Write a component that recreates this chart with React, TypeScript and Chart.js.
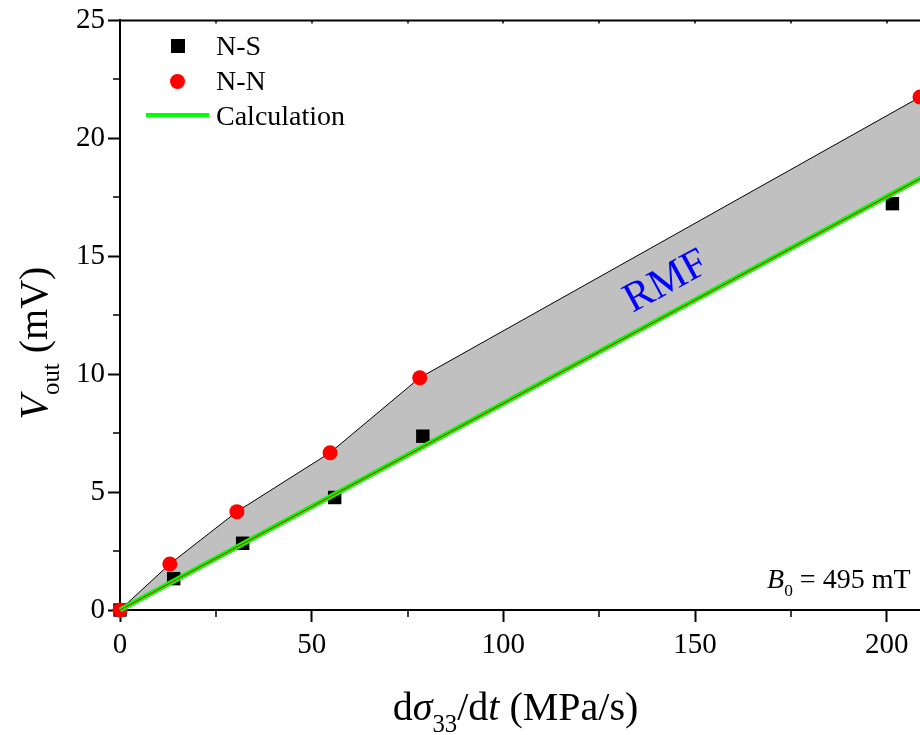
import { useEffect, useRef } from "react";
import { Chart, registerables } from "chart.js";

Chart.register(...registerables);

// Stress rate dσ33/dt (MPa/s) and measured output voltage (mV)
const nsRate = [0, 14, 32, 56, 79, 201.5];
const nsVout = [0, 1.33, 2.83, 4.77, 7.37, 17.23];
const nnRate = [0, 13, 30.5, 54.8, 78.2, 208.7];
const nnVout = [0, 1.95, 4.17, 6.67, 9.85, 21.75];
// Calculated response (straight line through the origin)
const calcRate = [0, 210];
const calcVout = [0, 18.4];

const xTicks = [0, 50, 100, 150, 200];
const yTicks = [0, 5, 10, 15, 20, 25];
const xMinorTicks = [25, 75, 125, 175];
const yMinorTicks = [2.5, 7.5, 12.5, 17.5, 22.5];

const SERIF = "'Liberation Serif', 'Times New Roman', serif";

type Run = { t: string; italic?: boolean; sub?: boolean };

function runFont(size: number, r: Run) {
  const s = r.sub ? size * 0.62 : size;
  return `${r.italic ? "italic " : ""}${s}px ${SERIF}`;
}

function drawRuns(
  ctx: CanvasRenderingContext2D,
  runs: Run[],
  x: number,
  y: number,
  size: number,
  align: "left" | "center"
) {
  ctx.save();
  ctx.textBaseline = "alphabetic";
  ctx.textAlign = "left";
  let total = 0;
  const widths = runs.map((r) => {
    ctx.font = runFont(size, r);
    const w = ctx.measureText(r.t).width;
    total += w;
    return w;
  });
  let cx = align === "center" ? x - total / 2 : x;
  runs.forEach((r, i) => {
    ctx.font = runFont(size, r);
    ctx.fillText(r.t, cx, r.sub ? y + size * 0.3 : y);
    cx += widths[i];
  });
  ctx.restore();
}

const decorPlugin = {
  id: "decor",
  afterDraw(chart: any) {
    const ctx: CanvasRenderingContext2D = chart.ctx;
    const { left, right, top, bottom } = chart.chartArea;
    const xs = chart.scales.x;
    const ys = chart.scales.y;
    ctx.save();
    ctx.strokeStyle = "#000";
    ctx.lineWidth = 2;

    // top and right frame
    ctx.beginPath();
    ctx.moveTo(left - 1, top);
    ctx.lineTo(right + 1, top);
    ctx.moveTo(right, top);
    ctx.lineTo(right, bottom);
    ctx.stroke();

    // minor ticks (outside) and small inner ticks along the top frame
    ctx.lineWidth = 1.5;
    ctx.beginPath();
    xMinorTicks.forEach((v) => {
      const px = Math.round(xs.getPixelForValue(v));
      ctx.moveTo(px, bottom);
      ctx.lineTo(px, bottom + 7);
    });
    yMinorTicks.forEach((v) => {
      const py = Math.round(ys.getPixelForValue(v));
      ctx.moveTo(left, py);
      ctx.lineTo(left - 7, py);
    });
    [...xTicks, ...xMinorTicks].forEach((v) => {
      const px = Math.round(xs.getPixelForValue(v));
      ctx.moveTo(px, top);
      ctx.lineTo(px, top + 3);
    });
    ctx.stroke();

    ctx.fillStyle = "#000";

    // x-axis title
    drawRuns(
      ctx,
      [
        { t: "d" },
        { t: "σ", italic: true },
        { t: "33", sub: true },
        { t: "/d" },
        { t: "t", italic: true },
        { t: " (MPa/s)" },
      ],
      (left + right) / 2 - 7,
      720,
      40,
      "center"
    );

    // y-axis title
    ctx.save();
    ctx.translate(47, 343);
    ctx.rotate(-Math.PI / 2);
    drawRuns(
      ctx,
      [{ t: "V", italic: true }, { t: "out", sub: true }, { t: " (mV)" }],
      0,
      0,
      40,
      "center"
    );
    ctx.restore();

    // legend
    ctx.fillStyle = "#000";
    ctx.fillRect(171, 39, 14, 14);
    ctx.fillStyle = "#ff0000";
    ctx.beginPath();
    ctx.arc(177.5, 81.5, 7.5, 0, Math.PI * 2);
    ctx.fill();
    ctx.strokeStyle = "#00ff00";
    ctx.lineWidth = 4;
    ctx.beginPath();
    ctx.moveTo(146, 115);
    ctx.lineTo(209, 115);
    ctx.stroke();
    ctx.fillStyle = "#000";
    drawRuns(ctx, [{ t: "N-S" }], 216, 55, 28, "left");
    drawRuns(ctx, [{ t: "N-N" }], 216, 90, 28, "left");
    drawRuns(ctx, [{ t: "Calculation" }], 216, 125, 28, "left");

    // field annotation
    drawRuns(
      ctx,
      [{ t: "B", italic: true }, { t: "0", sub: true }, { t: " = 495 mT" }],
      xs.getPixelForValue(168.8),
      ys.getPixelForValue(0.93),
      28,
      "left"
    );

    // region label
    ctx.save();
    ctx.translate(xs.getPixelForValue(142.5), ys.getPixelForValue(13.9));
    ctx.rotate((-28.5 * Math.PI) / 180);
    ctx.fillStyle = "#0000ff";
    ctx.font = `42px ${SERIF}`;
    ctx.textAlign = "center";
    ctx.textBaseline = "middle";
    ctx.fillText("RMF", 0, 0);
    ctx.restore();

    ctx.restore();
  },
};

export default function App() {
  const canvasRef = useRef<HTMLCanvasElement | null>(null);

  useEffect(() => {
    const canvas = canvasRef.current;
    if (!canvas) return;

    const pts = (xs: number[], ys: number[]) => xs.map((x, i) => ({ x, y: ys[i] }));

    const axisCommon = {
      type: "linear" as const,
      ticks: {
        font: { family: SERIF, size: 29 },
        color: "#000",
        maxRotation: 0,
        includeBounds: false,
      },
      grid: {
        drawOnChartArea: false,
        drawTicks: true,
        tickLength: 12,
        tickWidth: 2,
        tickColor: "#000",
      },
      border: { display: true, width: 2, color: "#000" },
    };

    const chart = new Chart(canvas, {
      type: "scatter",
      data: {
        datasets: [
          {
            label: "Calculation",
            data: pts(calcRate, calcVout),
            showLine: true,
            borderColor: "#00ff00",
            borderWidth: 5,
            pointRadius: 0,
            fill: false,
            clip: false,
            order: 0,
          },
          {
            label: "Calculation (centre)",
            data: pts(calcRate, calcVout),
            showLine: true,
            borderColor: "#ff0000",
            borderWidth: 1,
            pointRadius: 0,
            fill: false,
            clip: false,
            order: -1,
          },
          {
            label: "N-N",
            data: pts(nnRate, nnVout),
            showLine: true,
            borderColor: "#000",
            borderWidth: 1,
            backgroundColor: "#c0c0c0",
            fill: 0,
            pointStyle: "circle",
            pointRadius: 7.5,
            pointBackgroundColor: "#ff0000",
            pointBorderColor: "#ff0000",
            pointBorderWidth: 0,
            clip: false,
            order: 1,
          },
          {
            label: "N-S",
            data: pts(nsRate, nsVout),
            showLine: false,
            pointStyle: "rect",
            pointRadius: 9.5,
            pointBackgroundColor: "#000",
            pointBorderColor: "#000",
            pointBorderWidth: 0,
            clip: false,
            order: 2,
          },
        ],
      },
      options: {
        responsive: false,
        animation: false,
        events: [],
        devicePixelRatio: 1,
        layout: { padding: { top: 19, right: 15, left: 0, bottom: 0 } },
        plugins: {
          legend: { display: false },
          tooltip: { enabled: false },
          filler: { drawTime: "beforeDatasetsDraw" },
        },
        scales: {
          x: {
            ...axisCommon,
            min: 0,
            max: 210,
            ticks: { ...axisCommon.ticks, padding: 6 },
            afterBuildTicks: (s: any) => {
              s.ticks = xTicks.map((v) => ({ value: v }));
            },
            afterFit: (s: any) => {
              s.height = 125;
            },
          },
          y: {
            ...axisCommon,
            min: 0,
            max: 25,
            ticks: { ...axisCommon.ticks, padding: 3 },
            afterBuildTicks: (s: any) => {
              s.ticks = yTicks.map((v) => ({ value: v }));
            },
            afterFit: (s: any) => {
              s.width = 120;
            },
          },
        },
      } as any,
      plugins: [decorPlugin],
    });

    return () => chart.destroy();
  }, []);

  return (
    <div
      style={{
        position: "absolute",
        left: 0,
        top: 0,
        width: 920,
        height: 735,
        overflow: "hidden",
        background: "#fff",
      }}
    >
      <canvas ref={canvasRef} width={940} height={735} style={{ display: "block" }} />
    </div>
  );
}
